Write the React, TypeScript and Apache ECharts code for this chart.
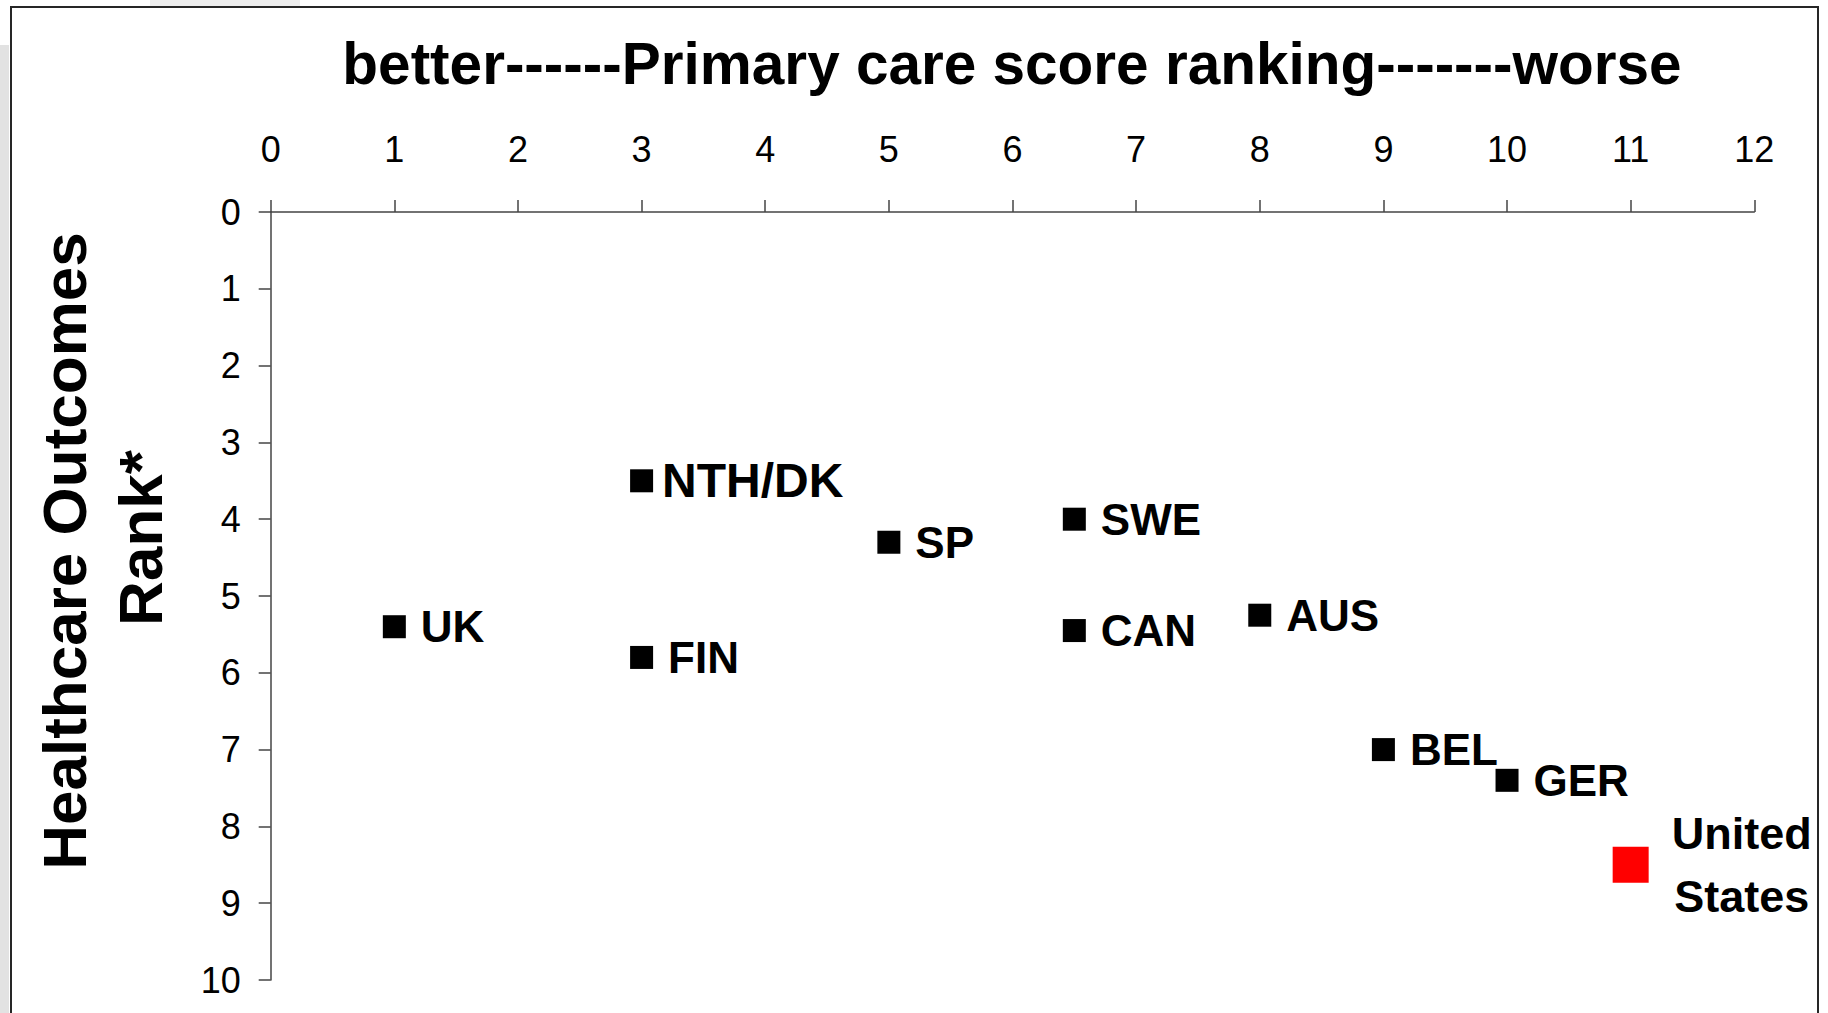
import React, { useEffect, useRef } from "react";
import * as echarts from "echarts";

const countries = ["UK", "NTH/DK", "FIN", "SP", "SWE", "CAN", "AUS", "BEL", "GER"];
const primaryCareRank = [1, 3, 3, 5, 6.5, 6.5, 8, 9, 10];
const outcomesRank = [5.4, 3.5, 5.8, 4.3, 4.0, 5.45, 5.25, 7.0, 7.4];

const usName = "United\nStates";
const usPrimaryCareRank = 11;
const usOutcomesRank = 8.5;

const xTicks = { min: 0, max: 12, interval: 1 };
const yTicks = { min: 0, max: 10, interval: 1 };

const xTitle = "better------Primary care score ranking-------worse";
const yTitleLines = ["Healthcare Outcomes", "Rank*"];

const FONT = "'Liberation Sans', Arial, Helvetica, sans-serif";

export default function App() {
  const ref = useRef<HTMLDivElement>(null);

  useEffect(() => {
    if (!ref.current) return;
    const chart = echarts.init(ref.current, undefined, { renderer: "svg" });

    const axisStyle = { color: "#444", width: 1.5 };

    const mainData = countries.map((c, i) => {
      const item: any = { name: c, value: [primaryCareRank[i], outcomesRank[i]] };
      if (c === "NTH/DK") item.label = { distance: 9, fontSize: 48 };
      return item;
    });

    const option: any = {
      animation: false,
      backgroundColor: "#ffffff",
      grid: { left: 270.7, top: 212, right: 73.7, bottom: 33, containLabel: false },
      xAxis: {
        type: "value",
        position: "top",
        min: xTicks.min,
        max: xTicks.max,
        interval: xTicks.interval,
        splitLine: { show: false },
        axisLine: { show: true, onZero: false, lineStyle: axisStyle },
        axisTick: { show: true, length: 12, inside: false, lineStyle: axisStyle },
        axisLabel: { fontSize: 36, color: "#000", fontFamily: FONT, margin: 45 },
      },
      yAxis: {
        type: "value",
        inverse: true,
        min: yTicks.min,
        max: yTicks.max,
        interval: yTicks.interval,
        splitLine: { show: false },
        axisLine: { show: true, onZero: false, lineStyle: axisStyle },
        axisTick: { show: true, length: 12, inside: false, lineStyle: axisStyle },
        axisLabel: { fontSize: 36, color: "#000", fontFamily: FONT, margin: 30 },
      },
      graphic: [
        { type: "rect", shape: { x: 0, y: 45, width: 9, height: 1000 }, style: { fill: "#e2e2e2" }, z: -1 },
        { type: "rect", shape: { x: 150, y: 0, width: 150, height: 6 }, style: { fill: "#ededed" }, z: -1 },
        {
          type: "rect",
          shape: { x: 11, y: 7, width: 1807, height: 1100 },
          style: { fill: "none", stroke: "#262626", lineWidth: 2 },
        },
        {
          type: "text",
          x: 1012,
          y: 63,
          style: {
            text: xTitle,
            fontSize: 58.5,
            fontWeight: "bold",
            fontFamily: FONT,
            fill: "#000",
            align: "center",
            verticalAlign: "middle",
          },
        },
        {
          type: "text",
          x: 64,
          y: 551,
          rotation: Math.PI / 2,
          style: {
            text: yTitleLines[0],
            fontSize: 62,
            fontWeight: "bold",
            fontFamily: FONT,
            fill: "#000",
            align: "center",
            verticalAlign: "middle",
          },
        },
        {
          type: "text",
          x: 140,
          y: 538,
          rotation: Math.PI / 2,
          style: {
            text: yTitleLines[1],
            fontSize: 62,
            fontWeight: "bold",
            fontFamily: FONT,
            fill: "#000",
            align: "center",
            verticalAlign: "middle",
          },
        },
      ],
      series: [
        {
          type: "scatter",
          symbol: "rect",
          symbolSize: 23,
          itemStyle: { color: "#000", opacity: 1 },
          data: mainData,
          label: {
            show: true,
            position: "right",
            distance: 15,
            formatter: "{b}",
            fontSize: 44,
            fontWeight: "bold",
            fontFamily: FONT,
            color: "#000",
          },
        },
        {
          type: "scatter",
          symbol: "rect",
          symbolSize: 36,
          itemStyle: { color: "#ff0000", opacity: 1 },
          data: [{ name: usName, value: [usPrimaryCareRank, usOutcomesRank] }],
          label: {
            show: true,
            position: [129, 18],
            align: "center",
            verticalAlign: "middle",
            lineHeight: 63,
            formatter: "{b}",
            fontSize: 45,
            fontWeight: "bold",
            fontFamily: FONT,
            color: "#000",
          },
        },
      ],
    };

    chart.setOption(option);
    return () => chart.dispose();
  }, []);

  return (
    <div
      ref={ref}
      style={{ position: "absolute", left: 0, top: 0, width: 1828, height: 1013 }}
    />
  );
}
